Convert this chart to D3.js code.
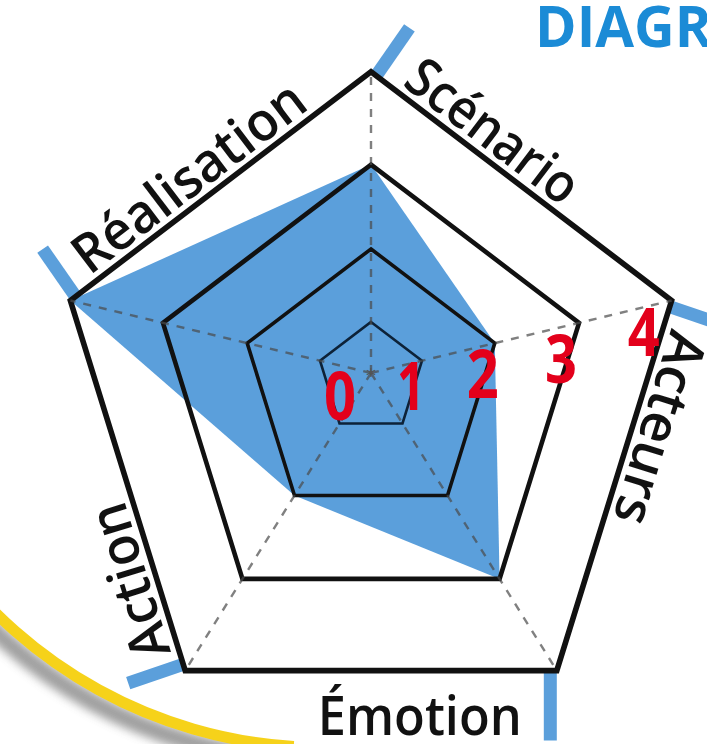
<!DOCTYPE html>
<html>
<head>
<meta charset="utf-8">
<script src="https://cdn.jsdelivr.net/npm/d3@7"></script>
<style>
  html, body { margin: 0; padding: 0; background: #ffffff; overflow: hidden; }
  svg { display: block; }
</style>
</head>
<body>
<svg id="chart" width="707" height="744"></svg>
<script>
// ---- data ----
const axes = ["Scénario", "Acteurs", "Émotion", "Action", "Réalisation"];
const values = [3, 2, 3, 2, 4];
const levels = [1, 2, 3, 4];
const tickLabels = ["0", "1", "2", "3", "4"];
const title = "DIAGRAMME";

// ---- layout ----
const W = 707, H = 744;
const cx = 371, cy = 373;
const R = 331;
const kx = 0.955;   // horizontal squeeze of the drawing
const ky = 0.09;    // downward drift of ring centres

const svg = d3.select("#chart");

const r = d3.scalePow().exponent(1.28).domain([0, 4]).range([0, R]);
const angle = d3.scaleLinear().domain([0, axes.length]).range([0, 2 * Math.PI]);

function project(rad, a) {
  return [cx + kx * rad * Math.sin(a), cy + rad * (ky - Math.cos(a))];
}
function ringPoints(v) {
  return axes.map((d, i) => project(r(v), angle(i)));
}
const line = d3.line().curve(d3.curveLinearClosed);

// ---- decorative yellow arc (bottom-left) ----
const defs = svg.append("defs");
defs.append("filter").attr("id", "blur").attr("x", "-20%").attr("y", "-20%").attr("width", "140%").attr("height", "140%")
  .append("feGaussianBlur").attr("stdDeviation", 5);
const arcG = svg.append("g").attr("transform", "translate(323,282)");
arcG.append("path")
  .attr("d", d3.arc().innerRadius(470).outerRadius(488).startAngle(Math.PI * 1.02).endAngle(Math.PI * 1.3)())
  .attr("fill", "#8f8f8f").attr("filter", "url(#blur)").attr("opacity", 0.85);
arcG.append("path")
  .attr("d", d3.arc().innerRadius(460).outerRadius(471).startAngle(Math.PI * 1.02).endAngle(Math.PI * 1.3)())
  .attr("fill", "#f6d21a");

// ---- title (clipped at the right edge) ----
svg.append("text")
  .attr("transform", "translate(535,47) scale(0.97,1)")
  .attr("font-family", "'Liberation Sans Narrow', 'Arial Narrow', 'Open Sans', sans-serif")
  .attr("font-weight", "bold")
  .attr("font-size", 58)
  .attr("fill", "#1b8bd6")
  .text(title);

// ---- blue ticks at outer vertices ----
const tickLen = 58, tickW = 13;
axes.forEach((d, i) => {
  const a = angle(i);
  const p = project(R, a);
  const b = a + Math.PI / 5;
  let dx = kx * Math.sin(b), dy = -Math.cos(b);
  const n = Math.hypot(dx, dy); dx /= n; dy /= n;
  const px = -dy, py = dx;
  const ox = px * tickW / 2, oy = py * tickW / 2;
  const L = i === 2 ? 70 : tickLen;
  svg.append("line")
    .attr("x1", p[0] + ox).attr("y1", p[1] + oy)
    .attr("x2", p[0] + ox + dx * L).attr("y2", p[1] + oy + dy * L)
    .attr("stroke", "#5b9fdb").attr("stroke-width", tickW);
});

// ---- data polygon ----
svg.append("path")
  .attr("d", line(values.map((v, i) => project(r(v), angle(i)))))
  .attr("fill", "#5b9fdb");

// ---- rings ----
const ringW = d3.scaleOrdinal().domain(levels).range([2.6, 3.6, 4.6, 5.6]);
svg.append("g").selectAll("path").data(levels).join("path")
  .attr("d", v => line(ringPoints(v)))
  .attr("fill", "none")
  .attr("stroke", v => v === 1 ? "#0d2238" : "#111")
  .attr("stroke-width", v => ringW(v))
  .attr("stroke-linejoin", "miter");

// ---- dashed axes ----
svg.append("g").selectAll("line").data(axes).join("line")
  .attr("x1", cx).attr("y1", cy)
  .attr("x2", (d, i) => project(R, angle(i))[0])
  .attr("y2", (d, i) => project(R, angle(i))[1])
  .attr("stroke", "#4a4a4a").attr("stroke-opacity", 0.7)
  .attr("stroke-width", 2.4).attr("stroke-dasharray", "8,8");

svg.append("text")
  .attr("x", cx).attr("y", cy + 9)
  .attr("text-anchor", "middle")
  .attr("font-family", "DejaVu Sans, sans-serif")
  .attr("font-size", 20).attr("fill", "#555").text("*");

// ---- axis labels along outer edges ----
const labelFont = "'Open Sans', 'Noto Sans', sans-serif";
const labelLen = [202, 199, 204, 160, 278];
const along = [32, 26, 35, 22, 30];
const gap = 8;
axes.forEach((d, i) => {
  const p0 = project(R, angle(i));
  const p1 = project(R, angle((i + 1) % axes.length));
  let ux = p1[0] - p0[0], uy = p1[1] - p0[1];
  const len = Math.hypot(ux, uy); ux /= len; uy /= len;
  const nx = uy, ny = -ux;
  const t = svg.append("text")
    .attr("font-family", labelFont)
    .attr("font-weight", 600)
    .attr("font-size", 54)
    .attr("fill", "#111")
    .attr("textLength", labelLen[i])
    .attr("lengthAdjust", "spacingAndGlyphs")
    .text(d);
  if (Math.abs(ux) > 0.99 && ux < 0) {
    // bottom edge: keep upright, right-aligned below the edge
    t.attr("text-anchor", "end")
      .attr("x", p0[0] - along[i])
      .attr("y", p0[1] + 64);
  } else {
    const x = p0[0] + ux * along[i] + nx * gap;
    const y = p0[1] + uy * along[i] + ny * gap;
    const deg = Math.atan2(uy, ux) * 180 / Math.PI;
    t.attr("transform", `translate(${x},${y}) rotate(${deg})`);
  }
});

// ---- red scale labels along the Acteurs axis ----
const tickNudge = [[-31, 47], [-11, 49], [-12, 55], [-18, 60], [-28, 55]];
svg.append("g").selectAll("text").data(tickLabels).join("text")
  .attr("x", (d, i) => project(r(i), angle(1))[0] + tickNudge[i][0])
  .attr("y", (d, i) => project(r(i), angle(1))[1] + tickNudge[i][1])
  .attr("text-anchor", "middle")
  .attr("font-family", "'Liberation Sans Narrow', 'Arial Narrow', 'Open Sans', sans-serif")
  .attr("font-weight", "bold")
  .attr("font-size", 66)
  .attr("textLength", (d, i) => i === 1 ? 28 : 32)
  .attr("lengthAdjust", "spacingAndGlyphs")
  .attr("fill", "#e3001b")
  .text(d => d);
</script>
</body>
</html>
